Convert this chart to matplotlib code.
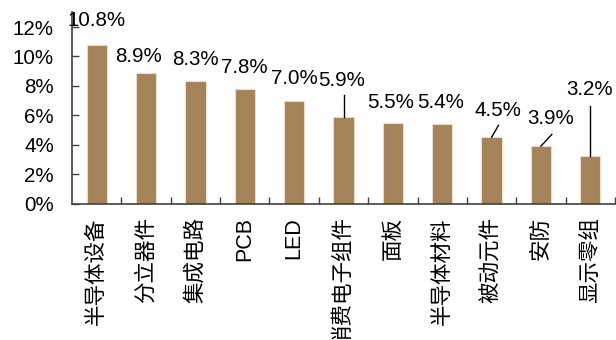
import matplotlib
matplotlib.use("Agg")
import matplotlib.pyplot as plt
from matplotlib.ticker import FixedLocator, PercentFormatter

plt.rcParams['font.family'] = ['Liberation Sans', 'Noto Sans CJK SC', 'DejaVu Sans']

categories = ["半导体设备", "分立器件", "集成电路", "PCB", "LED", "消费电子组件",
              "面板", "半导体材料", "被动元件", "安防", "显示零组"]
values = [10.8, 8.9, 8.3, 7.8, 7.0, 5.9, 5.5, 5.4, 4.5, 3.9, 3.2]

# label placement (x offset in category units, y in %), optional leader start
label_dx = [0.0, -0.16, 0.0, 0.0, 0.0, -0.04, -0.04, -0.04, 0.12, 0.2, -0.02]
label_y = [12.45, 10.0, 9.8, 9.27, 8.5, 8.38, 6.88, 6.88, 6.34, 5.79, 7.77]
leaders = {5: (0.0, 7.36), 8: (0.14, 5.32), 9: (0.22, 4.70), 10: (0.0, 6.61)}

BAR = "#A5835A"

fig = plt.figure(figsize=(6.16, 3.40), dpi=100)
ax = fig.add_axes([72 / 616, 1 - 203.5 / 340, 543 / 616, 191.2 / 340])

x = list(range(len(categories)))
ax.bar(x, values, width=0.41, color=BAR, edgecolor="#EADCC8", linewidth=0.8, zorder=2)

ax.set_xlim(-0.5, len(categories) - 0.5)
ax.set_ylim(0, 13)

ax.yaxis.set_major_locator(FixedLocator([0, 2, 4, 6, 8, 10, 12]))
ax.yaxis.set_major_formatter(PercentFormatter(decimals=0))
ax.tick_params(axis='y', direction='in', length=5, width=1, labelsize=14.8, pad=13,
               color="#404040")

ax.set_xticks(x)
ax.set_xticklabels(categories, rotation=90, va='top', ha='center', fontsize=15.5)
ax.tick_params(axis='x', which='major', length=0, pad=10)
ax.set_xticks([i + 0.5 for i in range(len(categories))], minor=True)
ax.tick_params(axis='x', which='minor', direction='in', length=5, width=1, color="#404040")

for side in ('top', 'right'):
    ax.spines[side].set_visible(False)
for side in ('left', 'bottom'):
    ax.spines[side].set_color("#404040")
    ax.spines[side].set_linewidth(1.2)

for i, v in enumerate(values):
    ax.text(i + label_dx[i], label_y[i], f"{v:.1f}%", ha='center', va='center',
            fontsize=14.8, color='black', zorder=3)
    if i in leaders:
        lx, ly = leaders[i]
        ax.plot([i + lx, i], [ly, v], color='black', linewidth=1, zorder=3)

fig.savefig("out.png", dpi=100)
